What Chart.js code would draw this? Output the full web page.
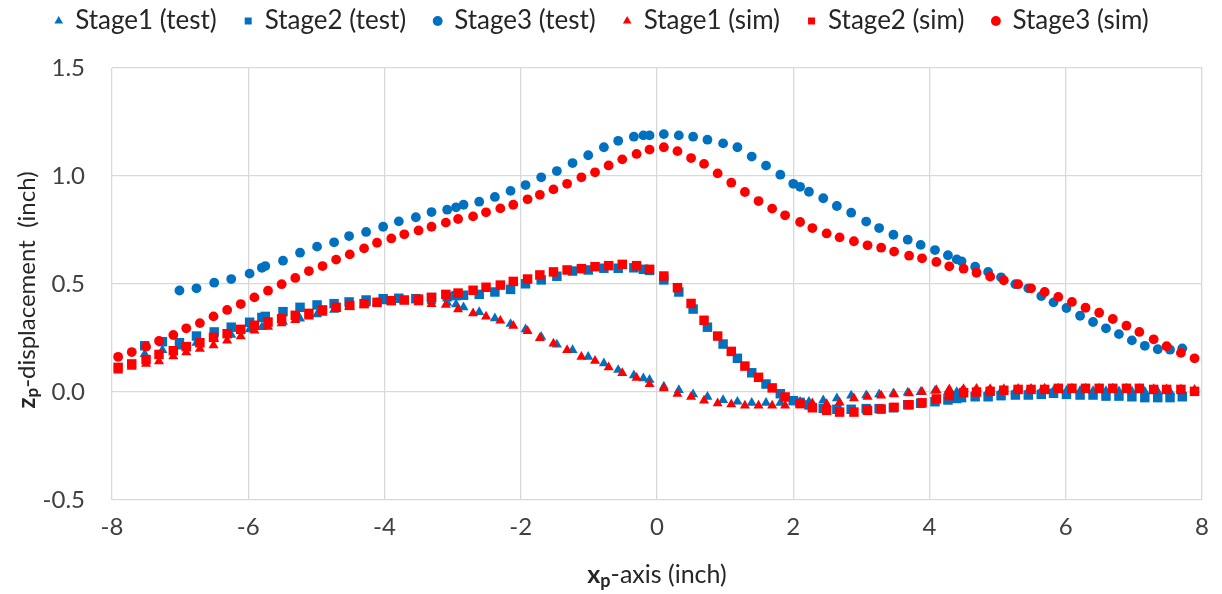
<!DOCTYPE html>
<html>
<head>
<meta charset="utf-8">
<script src="https://cdn.jsdelivr.net/npm/chart.js@4/dist/chart.umd.min.js"></script>
<style>
  html, body { margin: 0; padding: 0; background: #fff; }
  #wrap { width: 1222px; height: 594px; position: relative; }
</style>
</head>
<body>
<div id="wrap"><canvas id="chart"></canvas></div>
<script>
'use strict';

// ── Data ────────────────────────────────────────────────────
const simX = [
  -7.91, -7.71, -7.50, -7.31, -7.10, -6.91, -6.71, -6.51, -6.31, -6.11,
  -5.91, -5.71, -5.51, -5.31, -5.11, -4.91, -4.71, -4.51, -4.30, -4.11,
  -3.90, -3.71, -3.50, -3.31, -3.10, -2.92, -2.70, -2.51, -2.30, -2.11,
  -1.90, -1.72, -1.52, -1.32, -1.11, -0.91, -0.71, -0.51, -0.30, -0.11,
   0.10,  0.30,  0.50,  0.69,  0.89,  1.09,  1.29,  1.49,  1.69,  1.88,
   2.10,  2.28,  2.49,  2.68,  2.89,  3.09,  3.29,  3.48,  3.70,  3.89,
   4.10,  4.29,  4.50,  4.69,  4.89,  5.09,  5.30,  5.49,  5.69,  5.89,
   6.09,  6.29,  6.49,  6.69,  6.89,  7.08,  7.29,  7.48,  7.69,  7.89
];
const stage1Sim = [
  0.099, 0.117, 0.130, 0.142, 0.165, 0.184, 0.200, 0.216, 0.238, 0.258,
  0.284, 0.302, 0.318, 0.333, 0.349, 0.367, 0.387, 0.395, 0.405, 0.413,
  0.418, 0.420, 0.415, 0.407, 0.403, 0.383, 0.364, 0.349, 0.330, 0.306,
  0.282, 0.250, 0.224, 0.194, 0.163, 0.144, 0.114, 0.088, 0.066, 0.036,
  0.017, -0.009, -0.022, -0.040, -0.052, -0.057, -0.063, -0.063, -0.063, -0.063,
  -0.052, -0.052, -0.056, -0.049, -0.029, -0.022, -0.017, -0.011, -0.006, 0.001,
  0.009, 0.012, 0.014, 0.015, 0.014, 0.014, 0.015, 0.015, 0.016, 0.016,
  0.016, 0.016, 0.016, 0.016, 0.016, 0.015, 0.014, 0.013, 0.012, 0.010
];
const stage2Sim = [
  0.114, 0.130, 0.150, 0.174, 0.191, 0.210, 0.228, 0.253, 0.270, 0.290,
  0.309, 0.324, 0.339, 0.355, 0.364, 0.380, 0.392, 0.401, 0.409, 0.415,
  0.423, 0.426, 0.430, 0.438, 0.452, 0.458, 0.471, 0.485, 0.495, 0.512,
  0.523, 0.542, 0.556, 0.565, 0.571, 0.580, 0.585, 0.591, 0.585, 0.568,
  0.537, 0.483, 0.410, 0.332, 0.259, 0.188, 0.120, 0.068, 0.019, -0.023,
  -0.054, -0.073, -0.085, -0.093, -0.093, -0.085, -0.079, -0.071, -0.059, -0.050,
  -0.032, -0.017, -0.003, 0.000, 0.003, 0.008, 0.012, 0.012, 0.012, 0.017,
  0.017, 0.017, 0.017, 0.017, 0.017, 0.017, 0.012, 0.012, 0.012, 0.003
];
const stage3Sim = [
  0.163, 0.185, 0.210, 0.236, 0.264, 0.295, 0.319, 0.350, 0.380, 0.407,
  0.438, 0.469, 0.499, 0.528, 0.560, 0.583, 0.613, 0.637, 0.665, 0.691,
  0.711, 0.730, 0.748, 0.765, 0.784, 0.801, 0.813, 0.832, 0.850, 0.867,
  0.892, 0.913, 0.938, 0.964, 0.994, 1.017, 1.049, 1.077, 1.102, 1.122,
  1.133, 1.115, 1.083, 1.056, 1.012, 0.969, 0.926, 0.884, 0.849, 0.818,
  0.787, 0.759, 0.734, 0.716, 0.698, 0.679, 0.668, 0.650, 0.631, 0.619,
  0.602, 0.582, 0.571, 0.552, 0.534, 0.517, 0.499, 0.480, 0.463, 0.440,
  0.417, 0.390, 0.367, 0.338, 0.307, 0.278, 0.244, 0.212, 0.181, 0.156
];

const testX = [
  -7.52, -7.26, -7.01, -6.76, -6.50, -6.25, -5.98, -5.80, -5.75, -5.49,
  -5.24, -4.99, -4.74, -4.52, -4.27, -4.02, -3.79, -3.54, -3.31, -3.08,
  -2.95, -2.84, -2.61, -2.38, -2.15, -1.93, -1.70, -1.47, -1.24, -1.01,
  -0.78, -0.57, -0.34, -0.20, -0.11,  0.10,  0.32,  0.53,  0.74,  0.97,
   1.18,  1.39,  1.60,  1.81,  2.00,  2.10,  2.23,  2.44,  2.64,  2.85,
   3.07,  3.26,  3.47,  3.68,  3.87,  4.08,  4.27,  4.40,  4.47,  4.67,
   4.86,  5.05,  5.26,  5.45,  5.64,  5.82,  6.01,  6.21,  6.40,  6.59,
   6.78,  6.97,  7.16,  7.35,  7.53,  7.71
];
const stage1Test = [
  0.176, 0.194, 0.210, 0.228, 0.245, 0.265, 0.290, 0.300, 0.305, 0.325,
  0.340, 0.360, 0.380, 0.395, 0.410, 0.420, 0.425, 0.425, 0.420, 0.413,
  0.406, 0.392, 0.370, 0.341, 0.315, 0.290, 0.255, 0.220, 0.194, 0.163,
  0.133, 0.102, 0.077, 0.063, 0.056, 0.025, 0.009, -0.011, -0.022, -0.037,
  -0.045, -0.050, -0.050, -0.050, -0.045, -0.045, -0.045, -0.039, -0.029, -0.017,
  -0.015, -0.011, -0.006, -0.003, 0.000, 0.005, 0.000, 0.000, 0.002, 0.003,
  0.003, 0.004, 0.004, 0.005, 0.005, 0.006, 0.005, 0.005, 0.004, 0.004,
  0.003, 0.003, 0.002, 0.002, 0.002, 0.002
];
const stage2Test = [
  0.214, 0.233, 0.228, 0.259, 0.278, 0.300, 0.323, 0.345, 0.350, 0.372,
  0.392, 0.403, 0.409, 0.417, 0.426, 0.432, 0.434, 0.432, 0.437, 0.441,
  0.446, 0.448, 0.452, 0.463, 0.475, 0.501, 0.519, 0.536, 0.560, 0.565,
  0.573, 0.573, 0.575, 0.568, 0.563, 0.519, 0.463, 0.384, 0.300, 0.222,
  0.156, 0.089, 0.037, -0.008, -0.040, -0.048, -0.060, -0.076, -0.080, -0.080,
  -0.077, -0.077, -0.073, -0.059, -0.052, -0.045, -0.037, -0.030, -0.026, -0.022,
  -0.022, -0.017, -0.014, -0.014, -0.011, -0.006, -0.011, -0.014, -0.014, -0.019,
  -0.019, -0.022, -0.026, -0.026, -0.026, -0.022
];
const stage3Test = [
  null, null, 0.470, 0.480, 0.506, 0.523, 0.548, 0.575, 0.583, 0.608,
  0.645, 0.673, 0.693, 0.722, 0.741, 0.765, 0.790, 0.809, 0.833, 0.844,
  0.855, 0.867, 0.881, 0.903, 0.931, 0.958, 0.994, 1.023, 1.060, 1.096,
  1.133, 1.163, 1.182, 1.188, 1.188, 1.194, 1.188, 1.182, 1.168, 1.151,
  1.133, 1.090, 1.048, 1.006, 0.964, 0.950, 0.927, 0.897, 0.861, 0.830,
  0.789, 0.759, 0.728, 0.705, 0.681, 0.657, 0.633, 0.614, 0.605, 0.580,
  0.556, 0.531, 0.499, 0.480, 0.444, 0.415, 0.389, 0.353, 0.324, 0.295,
  0.268, 0.239, 0.214, 0.198, 0.196, 0.202
];

const xTicks = [-8, -6, -4, -2, 0, 2, 4, 6, 8];
const yTicks = [-0.5, 0, 0.5, 1.0, 1.5];

const BLUE = '#0070C0';
const RED  = '#FF0000';
const FONT = "'Lato', 'Liberation Sans', sans-serif";

const pairs = (xs, ys) => xs.map((x, i) => ({ x, y: ys[i] })).filter(p => p.y !== null);

// ── Series ──────────────────────────────────────────────────
const series = [
  { label: 'Stage1 (test)', data: pairs(testX, stage1Test), color: BLUE, style: 'triangle', r: 5.8 },
  { label: 'Stage2 (test)', data: pairs(testX, stage2Test), color: BLUE, style: 'rect',     r: 6.7 },
  { label: 'Stage3 (test)', data: pairs(testX, stage3Test), color: BLUE, style: 'circle',   r: 4.9 },
  { label: 'Stage1 (sim)',  data: pairs(simX, stage1Sim),   color: RED,  style: 'triangle', r: 5.8 },
  { label: 'Stage2 (sim)',  data: pairs(simX, stage2Sim),   color: RED,  style: 'rect',     r: 6.7 },
  { label: 'Stage3 (sim)',  data: pairs(simX, stage3Sim),   color: RED,  style: 'circle',   r: 4.9 }
];

// legend keeps wide item spacing but a fixed height, so the plot starts at y=68
const legendHeight = {
  id: 'legendHeight',
  beforeLayout(chart) {
    const lg = chart.legend;
    if (!lg || lg._fixedFit) return;
    const fit = lg.fit.bind(lg);
    lg.fit = function () { fit(); this.height = 88; };
    lg._fixedFit = true;
  }
};

// axis titles with bold subscripted variable names
const axisTitles = {
  id: 'axisTitles',
  afterDraw(chart) {
    const ctx = chart.ctx;
    const drawTitle = (parts) => {
      let w = 0;
      parts.forEach(p => { ctx.font = p.font; p.w = ctx.measureText(p.t).width; w += p.w; });
      let x = -w / 2;
      parts.forEach(p => {
        ctx.font = p.font;
        ctx.fillText(p.t, x, p.dy || 0);
        x += p.w;
      });
    };
    ctx.save();
    ctx.fillStyle = '#262626';
    ctx.textBaseline = 'middle';
    ctx.textAlign = 'left';

    // x title
    ctx.save();
    ctx.translate((chart.chartArea.left + chart.chartArea.right) / 2, 575);
    drawTitle([
      { t: 'x', font: `bold 25px ${FONT}` },
      { t: 'p', font: `bold 18px ${FONT}`, dy: 6 },
      { t: '-axis (inch)', font: `25px ${FONT}` }
    ]);
    ctx.restore();

    // y title
    ctx.save();
    ctx.translate(27, (chart.chartArea.top + chart.chartArea.bottom) / 2 + 6);
    ctx.rotate(-Math.PI / 2);
    drawTitle([
      { t: 'z', font: `bold 24px ${FONT}` },
      { t: 'p', font: `bold 17px ${FONT}`, dy: 6 },
      { t: '-displacement  (inch)', font: `24px ${FONT}` }
    ]);
    ctx.restore();
    ctx.restore();
  }
};

new Chart(document.getElementById('chart').getContext('2d'), {
  type: 'scatter',
  data: {
    datasets: series.map((s, i) => ({
      label: s.label,
      data: s.data,
      order: series.length - i,
      showLine: false,
      pointStyle: s.style,
      pointRadius: s.r,
      pointHoverRadius: s.r,
      backgroundColor: s.color,
      borderColor: s.color,
      pointBorderWidth: 0
    }))
  },
  options: {
    responsive: true,
    maintainAspectRatio: false,
    animation: false,
    layout: { padding: { top: -20, right: 18, bottom: 0, left: 0 } },
    plugins: {
      legend: {
        position: 'top',
        labels: {
          usePointStyle: true,
          boxWidth: 7, boxHeight: 7,
          padding: 28,
          color: '#262626',
          font: { family: FONT, size: 26 },
          sort: (a, b) => a.datasetIndex - b.datasetIndex
        }
      },
      tooltip: { enabled: false }
    },
    scales: {
      x: {
        type: 'linear',
        min: -8, max: 8,
        afterBuildTicks: axis => { axis.ticks = xTicks.map(v => ({ value: v })); },
        afterFit: axis => { axis.height = 94; },
        grid: { color: '#d9d9d9', lineWidth: 1.3, drawTicks: false },
        border: { display: false },
        ticks: { color: '#404040', padding: 13, font: { family: FONT, size: 24 } }
      },
      y: {
        type: 'linear',
        min: -0.5, max: 1.5,
        afterBuildTicks: axis => { axis.ticks = yTicks.map(v => ({ value: v })); },
        afterFit: axis => { axis.width = 112; },
        grid: { color: '#d9d9d9', lineWidth: 1.3, drawTicks: false },
        border: { display: false },
        ticks: { color: '#404040', padding: 27, font: { family: FONT, size: 24 }, callback: v => v.toFixed(1) }
      }
    }
  },
  plugins: [legendHeight, axisTitles]
});
</script>
</body>
</html>
